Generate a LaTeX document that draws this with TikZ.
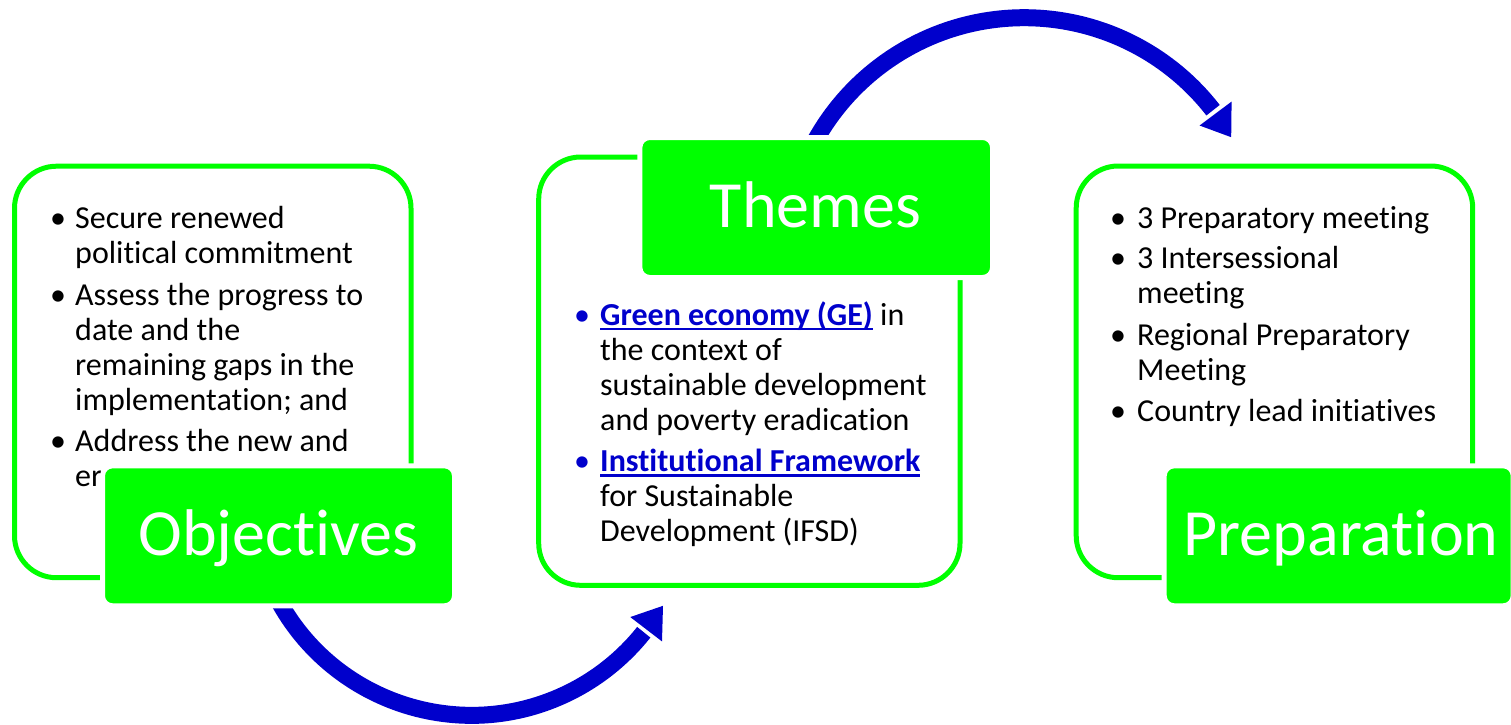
\documentclass[tikz,border=0pt]{standalone}
\usepackage{fontspec}
\setmainfont[Ligatures=NoCommon]{Carlito}
\definecolor{myGreen}{RGB}{0,255,0}
\definecolor{myBlue}{RGB}{0,0,204}
\newcommand\myul[1]{\setbox0\hbox{#1}\rlap{\rule[-5pt]{\wd0}{2.5pt}}\box0}
\begin{document}
\begin{tikzpicture}[x=1pt,y=-1pt,
  outline/.style={draw=myGreen,line width=5pt,rounded corners=42pt},
  labelbox/.style={rectangle,fill=myGreen,draw=white,line width=5pt,rounded corners=10pt,inner sep=0pt},
  labeltext/.style={anchor=base,inner sep=0pt,text=white,font=\fontsize{66}{72}\selectfont},
  body/.style={anchor=base west,inner sep=0pt,font=\fontsize{32}{35}\selectfont},
  bul/.style={anchor=base,inner sep=0pt,font=\fontsize{32}{35}\selectfont},
  shaft/.style={draw=myBlue,line width=17pt},
  head/.style={fill=myBlue}]
\fill[white] (0,0) rectangle (1511,724);
\useasboundingbox (0,0) rectangle (1511,724);
% arrows
\coordinate (C1) at (471.6,495.3);
\coordinate (C2) at (1024.2,256.7);
\draw[shaft] ([shift={(155:220)}]C1) arc[start angle=155,end angle=38.5,radius=220];
\fill[head] ([shift={(37.5:200)}]C1) -- ([shift={(30:221)}]C1) -- ([shift={(37.5:240)}]C1) -- cycle;
\draw[shaft] ([shift={(-152:239)}]C2) arc[start angle=-152,end angle=-37.8,radius=239];
\fill[head] ([shift={(-36.8:219)}]C2) -- ([shift={(-30:239)}]C2) -- ([shift={(-36.8:259)}]C2) -- cycle;
% outlines
\draw[outline] (14.5,166.2) rectangle (411,577.7);
\draw[outline] (538.7,157) rectangle (960,585.3);
\draw[outline] (1076.2,166) rectangle (1472.7,577.7);
% box 1 text (partly hidden by the label box)
\foreach \y/\t [count=\i] in {228.3/Secure renewed,263.3/political commitment,305/Assess the progress to,340/date and the,375/remaining gaps in the,410/implementation; and,451.7/Address the new and,486/er}
  {\node[body] (oa\i) at (75,\y) {\t};}
\foreach \y [count=\i] in {228.3,305,451.7}
  {\node[bul] (ob\i) at (58,\y) {•};}
% label boxes
\node[labelbox,minimum width=352pt,minimum height=140pt] (objbox) at (278.5,535.8) {};
\node[labelbox,minimum width=352.7pt,minimum height=140pt] (thbox) at (816.2,207.5) {};
\node[labelbox,minimum width=349pt,minimum height=140pt] (prbox) at (1338.7,535.8) {};
\node[labeltext] (objtxt) at (278.5,555) {Objectives};
\node[labeltext] (thtxt) at (815.5,227) {Themes};
\node[labeltext] (prtxt) at (1341,555) {Preparation};
% box 2 text
\node[body] (ta1) at (600,325) {\textcolor{myBlue}{\myul{\textbf{Green economy (GE)}}} in};
\foreach \y/\t [count=\i from 2] in {360/the context of,395/sustainable development,430/and poverty eradication,506.7/for Sustainable,541.7/Development (IFSD)}
  {\node[body] (ta\i) at (600,\y) {\t};}
\node[body] (ta7) at (600,471.7) {\textcolor{myBlue}{\myul{\textbf{Institutional Framework}}}};
\foreach \y [count=\i] in {325,471.7}
  {\node[bul,text=myBlue] (tb\i) at (582,\y) {•};}
% box 3 text
\foreach \y/\t [count=\i] in {228.3/3 Preparatory meeting,268.3/3 Intersessional,303.3/meeting,345/Regional Preparatory,380/Meeting,421.7/Country lead initiatives}
  {\node[body] (pa\i) at (1137,\y) {\t};}
\foreach \y [count=\i] in {228.3,268.3,345,421.7}
  {\node[bul] (pb\i) at (1118,\y) {•};}
\end{tikzpicture}
\end{document}
